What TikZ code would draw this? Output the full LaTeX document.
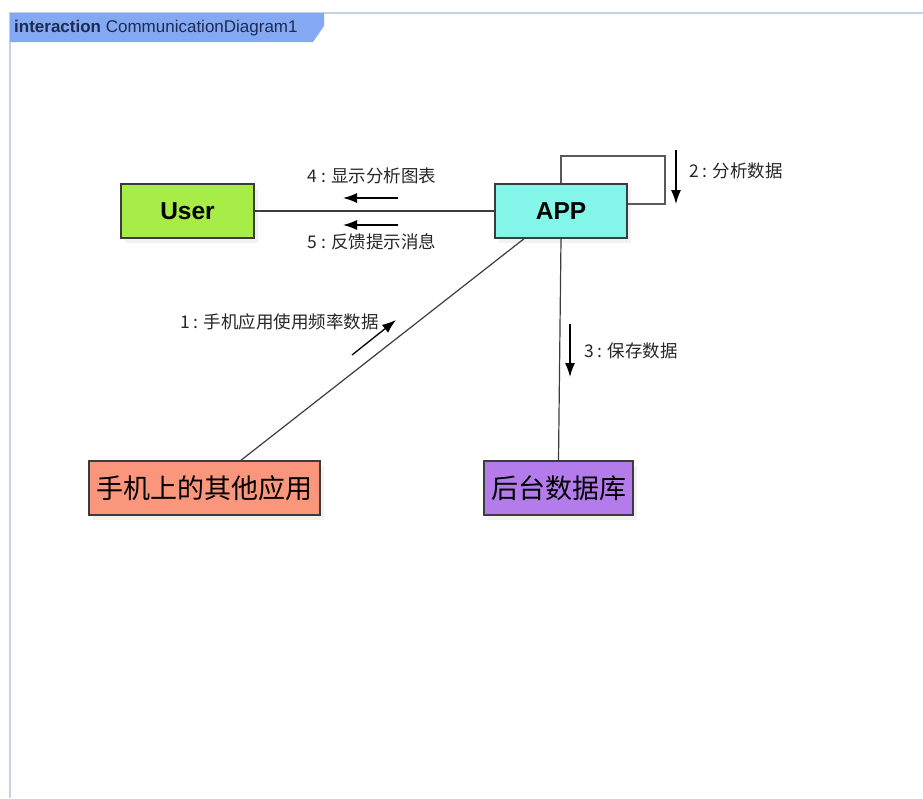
\documentclass[tikz,border=0pt]{standalone}
\usepackage{fontspec}
\setmainfont{Liberation Sans}
\newfontfamily\cjk{Noto Sans CJK SC}
\usetikzlibrary{arrows.meta,calc,shadows}
\definecolor{framecol}{HTML}{C4D2E2}
\definecolor{tagcol}{HTML}{84A9F2}
\definecolor{tagtext}{HTML}{1C2B52}
\definecolor{usercol}{HTML}{A8EC48}
\definecolor{appcol}{HTML}{84F6E9}
\definecolor{othercol}{HTML}{F9967C}
\definecolor{dbcol}{HTML}{B47CEA}
\definecolor{edgecol}{HTML}{3C3C3C}
\tikzset{objbox/.style={draw=edgecol, line width=1.5pt, minimum height=54pt, inner sep=0pt,
    drop shadow={shadow xshift=4pt, shadow yshift=-5pt, opacity=0.10, fill=gray}},
  link/.style={draw=edgecol, line width=1.2pt},
  msg/.style={line width=1.3pt, -{Latex[length=14pt,width=10pt]}},
  msglabel/.style={font=\cjk\fontsize{17.5}{19}\selectfont, text=black!85, inner sep=0pt}}

\begin{document}
\begin{tikzpicture}[x=1pt,y=-1pt]
\useasboundingbox (0,0) rectangle (923,798);

% frame and tag
\draw[framecol, line width=1.5pt] (10,798) -- (10,13) -- (923,13);
\fill[tagcol] (10,13) -- (324,13) -- (324,26) -- (313,42) -- (10,42) -- cycle;
\node[anchor=west, inner sep=0pt, text=tagtext, font=\fontsize{17}{19}\selectfont] (tag) at (14,28)
  {\textbf{interaction} CommunicationDiagram1};

% objects
\node[objbox, fill=usercol, minimum width=133pt, font=\bfseries\fontsize{24.5}{26}\selectfont] (user) at (187.5,211) {User};
\node[objbox, fill=appcol, minimum width=132pt, font=\bfseries\fontsize{24.5}{26}\selectfont] (app) at (561,211) {APP};
\node[objbox, fill=othercol, minimum width=231pt, font=\cjk\fontsize{27}{29}\selectfont] (other) at (204.5,488) {手机上的其他应用};
\node[objbox, fill=dbcol, minimum width=149pt, font=\cjk\fontsize{27}{29}\selectfont] (db) at (558.5,488) {后台数据库};

% links
\coordinate (loop) at (665,156);
\draw[link] (user) -- (app);
\draw[link] ($(app.south)+(-37,0)$) -- ($(other.north)+(36.5,0)$);
\draw[link] (app.south) -- (db.north);
\draw[link, draw=edgecol!85] (app.north) |- (loop) |- ($(app.east)+(0,-7)$);

% messages
\coordinate (m1) at (352,355);
\coordinate (m2) at (676,150);
\coordinate (m3) at (570,324);
\coordinate (m4) at (398,198);
\coordinate (m5) at (398,225);
\draw[msg] (m1) -- ++(44,-35);
\draw[msg] (m2) -- ++(0,54);
\draw[msg] (m3) -- ++(0,53);
\draw[msg] (m4) -- ++(-55,0);
\draw[msg] (m5) -- ++(-55,0);
\node[msglabel, anchor=east] (l1) at (379,322) {1 : 手机应用使用频率数据};
\node[msglabel, anchor=west] (l2) at (689,171) {2 : 分析数据};
\node[msglabel, anchor=west] (l3) at (584,351) {3 : 保存数据};
\node[msglabel] (l4) at (372,176) {4 : 显示分析图表};
\node[msglabel] (l5) at (372,242) {5 : 反馈提示消息};
\end{tikzpicture}
\end{document}
